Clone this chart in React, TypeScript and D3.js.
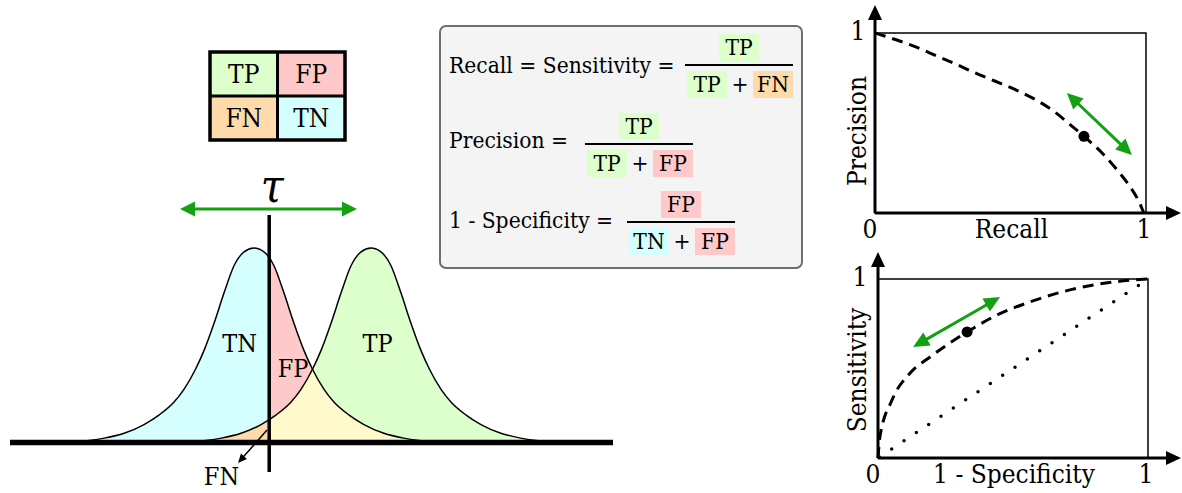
import React from 'react';
import * as d3 from 'd3';

const W = 1182;
const H = 493;
const FONT = "'DejaVu Serif', 'Liberation Serif', serif";
const GREEN = '#13a013';

// confusion matrix
const cellColors: Record<string, string> = { TP: '#ddffcc', FP: '#ffc9c9', FN: '#ffdbab', TN: '#d5ffff' };
const overlapColor = '#fff9cc';
const matrixRows = ['pos', 'neg'];
const matrixCols = ['pos', 'neg'];
const matrixCells = [
  { row: 'pos', col: 'pos', label: 'TP' },
  { row: 'pos', col: 'neg', label: 'FP' },
  { row: 'neg', col: 'pos', label: 'FN' },
  { row: 'neg', col: 'neg', label: 'TN' },
];

// half shape of each class score density (offset from peak -> relative height)
const profileOffset = [0, 0.17, 0.34, 0.51, 0.68, 0.85, 1.0, 1.2, 1.37, 1.62, 1.88, 2.22, 2.56, 2.82, 3.08];
const profileHeight = [1, 0.98, 0.91, 0.77, 0.615, 0.475, 0.375, 0.27, 0.205, 0.14, 0.09, 0.045, 0.02, 0.008, 0];
const negCenter = -1;
const posCenter = 1;
const threshold = -0.74;

// precision-recall curve
const prRecall = [0, 0.038, 0.155, 0.235, 0.303, 0.37, 0.444, 0.518, 0.592, 0.66, 0.721, 0.771, 0.838, 0.893, 0.936, 0.973, 0.992];
const prPrecision = [1, 0.982, 0.92, 0.868, 0.824, 0.778, 0.732, 0.685, 0.63, 0.565, 0.49, 0.426, 0.333, 0.24, 0.157, 0.066, 0];
const prPoint = [0.771, 0.426];
const prShift = [[0.708, 0.667], [0.948, 0.322]];

// ROC curve
const rocFpr = [0, 0.007, 0.052, 0.119, 0.193, 0.33, 0.441, 0.563, 0.711, 0.87, 1];
const rocTpr = [0, 0.117, 0.324, 0.475, 0.564, 0.704, 0.799, 0.872, 0.939, 0.983, 1];
const rocPoint = [0.33, 0.704];
const rocShift = [[0.13, 0.62], [0.452, 0.899]];
const chanceFpr = [0, 1];
const chanceTpr = [0, 1];

const formulaRows = [
  { label: 'Recall = Sensitivity =', num: ['TP'], den: ['TP', 'FN'] },
  { label: 'Precision =', num: ['TP'], den: ['TP', 'FP'] },
  { label: '1 - Specificity =', num: ['FP'], den: ['TN', 'FP'] },
];
const formulaLayout = [
  { labelY: 73, barX: 685, barY: 65 },
  { labelY: 148, barX: 585, barY: 144 },
  { labelY: 228, barX: 627, barY: 222 },
];

function arrowParts(x1: number, y1: number, x2: number, y2: number, len: number, hw: number, start: boolean, end: boolean) {
  const L = Math.hypot(x2 - x1, y2 - y1);
  const ux = (x2 - x1) / L, uy = (y2 - y1) / L;
  const px = -uy, py = ux;
  const head = (tx: number, ty: number, dx: number, dy: number) => {
    const bx = tx - dx * len, by = ty - dy * len;
    return `M${tx},${ty}L${bx + px * hw},${by + py * hw}L${bx - px * hw},${by - py * hw}Z`;
  };
  const heads: string[] = [];
  if (start) heads.push(head(x1, y1, -ux, -uy));
  if (end) heads.push(head(x2, y2, ux, uy));
  return {
    x1: start ? x1 + ux * len * 0.8 : x1,
    y1: start ? y1 + uy * len * 0.8 : y1,
    x2: end ? x2 - ux * len * 0.8 : x2,
    y2: end ? y2 - uy * len * 0.8 : y2,
    heads,
  };
}

function Arrow({ x1, y1, x2, y2, color, width, len, hw, start = false, end = true }: any) {
  const a = arrowParts(x1, y1, x2, y2, len, hw, start, end);
  return (
    <g>
      <line x1={a.x1} y1={a.y1} x2={a.x2} y2={a.y2} stroke={color} strokeWidth={width} />
      {a.heads.map((d, i) => <path key={i} d={d} fill={color} />)}
    </g>
  );
}

function Matrix() {
  const x = d3.scaleBand().domain(matrixCols).range([210, 345]);
  const y = d3.scaleBand().domain(matrixRows).range([52, 140]);
  return (
    <g>
      {matrixCells.map((c) => (
        <g key={c.label}>
          <rect x={x(c.col)} y={y(c.row)} width={x.bandwidth()} height={y.bandwidth()} fill={cellColors[c.label]} />
          <text x={x(c.col)! + x.bandwidth() / 2} y={y(c.row)! + y.bandwidth() / 2 + 9} textAnchor="middle" fontSize={26}>{c.label}</text>
        </g>
      ))}
      <line x1={x('neg')} x2={x('neg')} y1={52} y2={140} stroke="#000" strokeWidth={3} />
      <line x1={210} x2={345} y1={y('neg')} y2={y('neg')} stroke="#000" strokeWidth={3} />
      <rect x={210} y={52} width={135} height={88} fill="none" stroke="#000" strokeWidth={3.5} />
    </g>
  );
}

function Formulas() {
  const bw = 40, bh = 27;
  const term = (t: string, x: number, top: number, key: string) => (
    <g key={key}>
      <rect x={x} y={top} width={bw} height={bh} fill={cellColors[t]} />
      <text x={x + bw / 2} y={top + bh - 6} textAnchor="middle">{t}</text>
    </g>
  );
  return (
    <g fontSize={22.6}>
      <rect x={440} y={26} width={362} height={242} rx={6} fill="#f4f4f4" stroke="#6e6e6e" strokeWidth={2} />
      {formulaRows.map((r, i) => {
        const l = formulaLayout[i];
        return (
          <g key={r.label}>
            <text x={449} y={l.labelY}>{r.label}</text>
            {term(r.num[0], l.barX + 54 - bw / 2, l.barY - 31, 'n')}
            <line x1={l.barX} x2={l.barX + 108} y1={l.barY} y2={l.barY} stroke="#000" strokeWidth={2} />
            {term(r.den[0], l.barX + 2, l.barY + 6, 'd0')}
            <text x={l.barX + 55} y={l.barY + 6 + bh - 6} textAnchor="middle">+</text>
            {term(r.den[1], l.barX + 68, l.barY + 6, 'd1')}
          </g>
        );
      })}
    </g>
  );
}

function Densities() {
  const x = d3.scaleLinear().domain([-5, 5]).range([20, 605]);
  const y = d3.scaleLinear().domain([0, 1]).range([442, 248]);
  const shape = (c: number) => {
    const left = profileOffset.slice(1).map((d, i) => ({ x: c - d, y: profileHeight[i + 1] })).reverse();
    const right = profileOffset.map((d, i) => ({ x: c + d, y: profileHeight[i] }));
    return [...left, ...right];
  };
  const neg = shape(negCenter);
  const pos = shape(posCenter);
  const area = d3.area<{ x: number; y: number }>().x((d) => x(d.x)).y0(y(0)).y1((d) => y(d.y)).curve(d3.curveMonotoneX);
  const line = d3.line<{ x: number; y: number }>().x((d) => x(d.x)).y((d) => y(d.y)).curve(d3.curveMonotoneX);
  const tx = x(threshold);
  return (
    <g>
      <defs>
        <clipPath id="leftOfTau"><rect x={0} y={0} width={tx} height={H} /></clipPath>
        <clipPath id="rightOfTau"><rect x={tx} y={0} width={W} height={H} /></clipPath>
        <clipPath id="underPos"><path d={area(pos)!} /></clipPath>
      </defs>
      <path d={area(neg)!} fill={cellColors.TN} clipPath="url(#leftOfTau)" />
      <path d={area(neg)!} fill={cellColors.FP} clipPath="url(#rightOfTau)" />
      <path d={area(pos)!} fill={cellColors.TP} clipPath="url(#rightOfTau)" />
      <g clipPath="url(#rightOfTau)">
        <path d={area(neg)!} fill={overlapColor} clipPath="url(#underPos)" />
      </g>
      <path d={area(pos)!} fill={cellColors.FN} clipPath="url(#leftOfTau)" />
      <path d={line(neg)!} fill="none" stroke="#000" strokeWidth={1.5} />
      <path d={line(pos)!} fill="none" stroke="#000" strokeWidth={1.5} />
      <line x1={10} x2={613} y1={442.5} y2={442.5} stroke="#000" strokeWidth={5.5} />
      <line x1={tx} x2={tx} y1={215} y2={472} stroke="#000" strokeWidth={3.5} />
      <Arrow x1={180} y1={209} x2={357} y2={209} color={GREEN} width={3} len={15} hw={7.5} start end />
      <text x={tx + 3} y={202} textAnchor="middle" fontSize={46} fontStyle="italic">τ</text>
      <text x={239.5} y={352} textAnchor="middle" fontSize={25}>TN</text>
      <text x={293} y={377} textAnchor="middle" fontSize={25}>FP</text>
      <text x={377.5} y={352} textAnchor="middle" fontSize={25}>TP</text>
      <text x={221.5} y={485} textAnchor="middle" fontSize={25}>FN</text>
      <Arrow x1={267} y1={430} x2={238} y2={463} color="#000" width={1.5} len={9} hw={4} />
    </g>
  );
}

function CurvePanel({ x0, x1, y0, y1, tipX, tipY, xs, ys, point, shift, xLabel, yLabel, labelY, yLabelY, zeroX, oneX, topOneX, chance }: any) {
  const x = d3.scaleLinear().domain([0, 1]).range([x0, x1]);
  const y = d3.scaleLinear().domain([0, 1]).range([y0, y1]);
  const pts = xs.map((v: number, i: number) => [v, ys[i]] as [number, number]);
  const line = d3.line<[number, number]>().x((d) => x(d[0])).y((d) => y(d[1])).curve(d3.curveMonotoneX);
  const straight = d3.line<[number, number]>().x((d) => x(d[0])).y((d) => y(d[1]));
  return (
    <g>
      <rect x={x0} y={y1} width={x1 - x0} height={y0 - y1} fill="none" stroke="#000" strokeWidth={1.5} />
      {chance && (
        <path d={straight(chance)!} fill="none" stroke="#000" strokeWidth={3.5} strokeLinecap="round" strokeDasharray="0 14.8" strokeDashoffset={-1.6} />
      )}
      <path d={line(pts)!} fill="none" stroke="#000" strokeWidth={3} strokeDasharray="11 7" />
      <circle cx={x(point[0])} cy={y(point[1])} r={5.5} fill="#000" />
      <Arrow x1={x(shift[0][0])} y1={y(shift[0][1])} x2={x(shift[1][0])} y2={y(shift[1][1])} color={GREEN} width={3} len={16} hw={7.5} start end />
      <Arrow x1={x0} y1={y0} x2={x0} y2={tipY} color="#000" width={3} len={15} hw={7} />
      <Arrow x1={x0} y1={y0} x2={tipX} y2={y0} color="#000" width={3} len={15} hw={7} />
      <g fontSize={26}>
        <text x={zeroX} y={labelY} textAnchor="middle">0</text>
        <text x={oneX} y={labelY} textAnchor="middle">1</text>
        <text x={topOneX} y={y1 + 7} textAnchor="middle">1</text>
        <text x={(x0 + x1) / 2 + 1} y={labelY} textAnchor="middle">{xLabel}</text>
        <text transform={`translate(866,${yLabelY}) rotate(-90)`} textAnchor="middle">{yLabel}</text>
      </g>
    </g>
  );
}

export default function App() {
  return (
    <svg width={W} height={H} viewBox={`0 0 ${W} ${H}`} style={{ position: 'absolute', left: 0, top: 0, background: '#fff', fontFamily: FONT, fontStretch: 'condensed' }}>
      <Matrix />
      <Formulas />
      <Densities />
      <CurvePanel x0={875} x1={1146} y0={213} y1={33} tipX={1181} tipY={5} xs={prRecall} ys={prPrecision} point={prPoint} shift={prShift}
        xLabel="Recall" yLabel="Precision" labelY={238} yLabelY={131} zeroX={870} oneX={1144} topOneX={858} />
      <CurvePanel x0={878} x1={1148} y0={458} y1={279} tipX={1181} tipY={252} xs={rocFpr} ys={rocTpr} point={rocPoint} shift={rocShift}
        xLabel="1 - Specificity" yLabel="Sensitivity" labelY={483} yLabelY={370} zeroX={873} oneX={1146} topOneX={860}
        chance={chanceFpr.map((v, i) => [v, chanceTpr[i]])} />
    </svg>
  );
}
